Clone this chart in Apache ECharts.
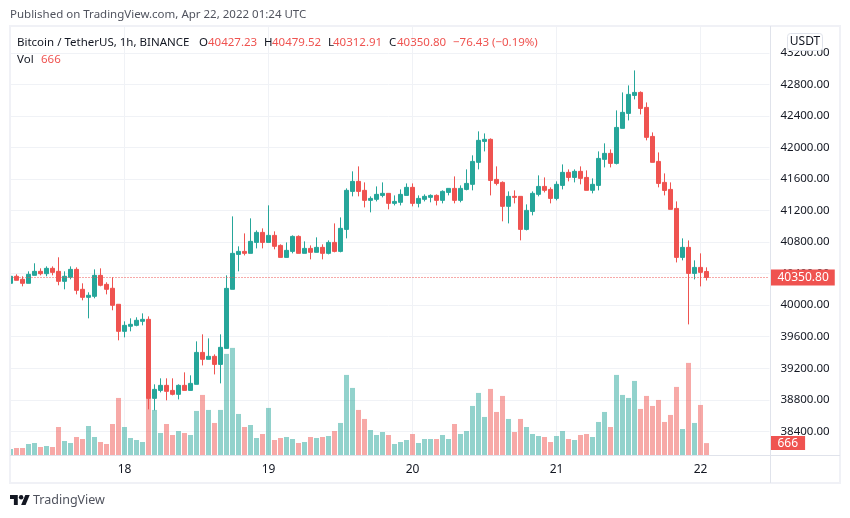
<!DOCTYPE html>
<html lang="en" style="height: 100%">
<head>
<meta charset="utf-8">
<title>Bitcoin / TetherUS</title>
<script src="https://cdn.jsdelivr.net/npm/echarts@6/dist/echarts.min.js"></script>
</head>
<body style="height: 100%; margin: 0; background: #fff">
<div id="container" style="width: 850px; height: 518px"></div>
<script>
var opens = [
  40277,40366,40328,40277,40378,40429,40399,40467,40429,40302,
  40353,40454,40201,40099,40112,40378,40264,40214,40011,39668,
  39732,39744,39795,39820,38818,38919,38983,38919,38869,38983,
  38919,38996,39401,39313,39351,39249,39452,40201,40644,40682,
  40657,40796,40923,40796,40885,40758,40606,40682,40872,40657,
  40720,40670,40733,40657,40796,40682,40961,41443,41570,41456,
  41329,41342,41392,41418,41291,41304,41392,41494,41291,41342,
  41367,41392,41329,41430,41481,41329,41468,41532,41811,42077,
  42103,41595,41557,41253,41380,41380,40961,41189,41405,41506,
  41468,41354,41519,41684,41620,41697,41620,41456,41519,41849,
  41925,41798,42242,42432,42660,42698,42508,42140,41823,41557,
  41468,41227,40606,40733,40403,40479,40427.23
];
var closes = [
  40366,40315,40277,40391,40429,40399,40467,40416,40302,40366,
  40454,40188,40099,40125,40378,40252,40201,39998,39668,39744,
  39757,39808,39820,38818,38932,38983,38907,38869,38983,38919,
  39008,39401,39313,39351,39249,39465,40213,40657,40682,40657,
  40809,40923,40796,40885,40746,40606,40695,40872,40657,40720,
  40670,40733,40657,40796,40682,40974,41456,41570,41443,41329,
  41354,41405,41418,41291,41316,41405,41494,41291,41354,41380,
  41392,41329,41443,41481,41329,41481,41544,41823,42090,42103,
  41582,41544,41253,41380,41367,40961,41202,41418,41506,41456,
  41354,41532,41684,41620,41697,41608,41456,41532,41861,41925,
  41798,42254,42445,42673,42698,42495,42128,41811,41544,41455,
  41215,40606,40733,40403,40479,40416,40350.80
];
var lows = [
  40264,40315,40239,40277,40378,40378,40366,40378,40252,40201,
  40328,40137,40061,39833,40087,40239,40137,39935,39554,39592,
  39668,39732,39744,38679,38666,38894,38793,38856,38805,38919,
  38919,38996,39236,39313,39122,39008,39452,40201,40429,40631,
  40657,40720,40720,40796,40708,40606,40606,40657,40657,40657,
  40581,40670,40581,40644,40670,40670,40847,41380,41380,41240,
  41177,41316,41367,41215,41265,41265,41392,41253,41240,41316,
  41304,41265,41291,41392,41291,41304,41456,41456,41722,41950,
  41392,41519,41063,41037,41291,40822,40948,41139,41380,41430,
  41291,41329,41468,41570,41557,41532,41456,41418,41456,41747,
  41747,41785,42242,42343,42609,42419,42090,41811,41494,41392,
  41215,40542,40568,39756,40327,40238,40312.91
];
var highs = [
  40442,40391,40366,40429,40531,40467,40492,40492,40607,40429,
  40492,40480,40277,40163,40454,40467,40290,40353,40011,39795,
  39833,39846,39896,39858,38996,39072,39072,39072,38996,39148,
  39110,39541,39630,39579,39376,39630,40378,41126,40746,40910,
  41101,40948,40974,41266,40936,40771,40796,40885,40885,40809,
  40758,40860,40771,40822,41037,41113,41481,41697,41760,41557,
  41380,41506,41557,41418,41392,41468,41544,41544,41392,41405,
  41405,41405,41456,41481,41633,41519,41722,41900,42204,42178,
  42115,41760,41570,41443,41456,41380,41278,41443,41646,41620,
  41494,41570,41785,41722,41722,41760,41709,41608,41950,42052,
  41975,42470,42698,42787,42977,42711,42571,42191,41937,41671,
  41557,41316,40847,40821,40568,40657,40479.52
];
var volumes = [
  336,392,392,616,672,448,504,448,1568,784,
  672,1008,896,1624,1008,728,616,1736,3192,1568,
  952,840,728,3360,2520,1232,1736,1120,1344,1232,
  1120,2464,3360,2520,1792,2520,5656,5992,2296,1568,
  1680,952,1176,2632,840,952,1008,896,672,728,
  1008,952,1008,1064,1344,1792,4480,3752,2520,2016,
  1400,1120,1288,1120,616,728,840,1176,672,896,
  896,896,1120,896,1736,1176,1344,2744,3472,2128,
  3696,2408,3304,2016,1288,2016,1568,1176,1064,1008,
  728,1064,1344,896,840,1120,1176,1008,1848,2408,
  1568,4480,3360,3192,4144,2576,3304,2744,3080,1848,
  2240,3808,1456,5152,1792,2800,666
];
// hour slots on the time axis, 10 empty ones after the last candle
var slotCount = 127;
var dayTicks = { 19: '18', 43: '19', 67: '20', 91: '21', 115: '22' };

var lastPrice = 40350.80;
var lastVolume = 666;
var priceMin = 38400;
var priceMax = 43200;
var priceStep = 400;
var volumeMax = 24000;

var publishedText = 'Published on TradingView.com, Apr 22, 2022 01:24 UTC';
var seriesName = 'Bitcoin / TetherUS, 1h, BINANCE';
var ohlcLabels = ['O', 'H', 'L', 'C'];
var ohlcValues = ['40427.23', '40479.52', '40312.91', '40350.80'];
var changeText = '\u221276.43 (\u22120.19%)';

var UP = '#26a69a';
var DOWN = '#ef5350';
var FONT = '"Noto Sans", sans-serif';

var slots = [];
for (var s = 0; s < slotCount; s++) slots.push(String(s));

var candles = opens.map(function (o, i) {
  return [o, closes[i], lows[i], highs[i]];
});

function isTick(index) {
  return dayTicks[index] !== undefined;
}

var titleText = '{name|' + seriesName + '}';
ohlcLabels.forEach(function (k, i) {
  titleText += '{key' + k + '|' + k + '}{val|' + ohlcValues[i] + '}';
});
titleText += '{chg|' + changeText + '}';

function legendStyle(color, width) {
  return { width: width, color: color, fontSize: 11.5, fontFamily: FONT };
}

var myChart = echarts.init(document.getElementById('container'), null, { renderer: 'canvas' });

var option = {
  animation: false,
  backgroundColor: '#fff',
  textStyle: { fontFamily: FONT },
  title: [
    { text: publishedText, left: 10, top: 9, padding: 0, textStyle: { fontSize: 11.5, fontWeight: 'normal', color: '#50535e', fontFamily: FONT } },
    {
      text: titleText, left: 17, top: 37, padding: 0,
      textStyle: {
        fontSize: 11.5, fontWeight: 'normal', fontFamily: FONT,
        rich: {
          name: legendStyle('#131722', 182),
          keyO: legendStyle('#131722', 9),
          keyH: legendStyle('#131722', 8),
          keyL: legendStyle('#131722', 5),
          keyC: legendStyle('#131722', 8),
          val: legendStyle(DOWN, 56),
          chg: { color: DOWN, fontSize: 11.5, fontFamily: FONT }
        }
      }
    },
    {
      text: '{key|Vol}{val|' + lastVolume + '}', left: 17, top: 54, padding: 0,
      textStyle: {
        fontSize: 11.5, fontWeight: 'normal', fontFamily: FONT,
        rich: {
          key: legendStyle('#131722', 24),
          val: { color: DOWN, fontSize: 11.5, fontFamily: FONT }
        }
      }
    }
  ],
  grid: [
    { left: 7.5, top: 52.83, width: 762, height: 378.5 },
    { left: 7.5, top: 26, width: 762, height: 429 }
  ],
  xAxis: [
    { type: 'category', gridIndex: 0, data: slots, show: false },
    {
      type: 'category', gridIndex: 1, data: slots,
      axisLine: { show: false },
      axisTick: { show: false },
      axisLabel: {
        interval: function (index) { return isTick(index); },
        formatter: function (v, index) { return dayTicks[index] || ''; },
        color: '#131722', fontSize: 12, margin: 9, fontFamily: FONT
      },
      splitLine: {
        show: true,
        alignWithLabel: true,
        interval: function (index) { return isTick(index); },
        lineStyle: { color: '#f0f2f6', width: 1 }
      }
    }
  ],
  yAxis: [
    {
      type: 'value', gridIndex: 0, position: 'right',
      min: priceMin, max: priceMax, interval: priceStep,
      axisLine: { show: false },
      axisTick: { show: false },
      axisLabel: {
        formatter: function (v) { return v.toFixed(2); },
        color: '#131722', fontSize: 11.5, margin: 11, fontFamily: FONT,
        padding: [2, 0, 0, 0]
      },
      splitLine: { lineStyle: { color: '#f0f2f6', width: 1 } }
    },
    { type: 'value', gridIndex: 1, min: 0, max: volumeMax, show: false }
  ],
  series: [
    {
      type: 'bar', name: 'Vol', xAxisIndex: 1, yAxisIndex: 1,
      data: volumes.map(function (v, i) {
        return {
          value: v,
          itemStyle: { color: closes[i] < opens[i] ? 'rgba(239,83,80,0.5)' : 'rgba(38,166,154,0.5)' }
        };
      }),
      barWidth: 5,
      z: 2,
      markLine: {
        silent: true, symbol: 'none', z: 6,
        lineStyle: { color: 'rgba(0,0,0,0)', width: 1 },
        label: {
          show: true, position: 'end', distance: 1,
          formatter: String(lastVolume),
          color: '#fff', backgroundColor: DOWN, fontSize: 12, fontFamily: FONT,
          padding: [1, 7, 1, 7], align: 'left'
        },
        data: [{ yAxis: lastVolume }]
      }
    },
    {
      type: 'candlestick', name: 'BTCUSDT', xAxisIndex: 0, yAxisIndex: 0,
      data: candles,
      barWidth: 5,
      z: 3,
      itemStyle: { color: UP, color0: DOWN, borderColor: UP, borderColor0: DOWN, borderWidth: 1 },
      markLine: {
        silent: true, symbol: 'none', z: 6,
        lineStyle: { color: DOWN, width: 1, type: [1, 2] },
        label: {
          show: true, position: 'end', distance: 1,
          formatter: lastPrice.toFixed(2),
          color: '#fff', backgroundColor: DOWN, fontSize: 12, fontFamily: FONT,
          padding: [2, 6, 2, 7], align: 'left'
        },
        data: [{ yAxis: lastPrice }]
      }
    }
  ],
  graphic: [
    // trims the first candle and bar at the pane edge
    { type: 'rect', z: 50, silent: true, shape: { x: 6, y: 26, width: 4, height: 429 }, style: { fill: '#fff' } },
    { type: 'rect', z: 51, silent: true, shape: { x: 10, y: 26, width: 830, height: 457 }, style: { fill: 'none', stroke: '#f0f1f6', lineWidth: 2 } },
    { type: 'line', z: 51, silent: true, shape: { x1: 770.5, y1: 26, x2: 770.5, y2: 483 }, style: { stroke: '#e0e3eb', lineWidth: 1 } },
    { type: 'line', z: 51, silent: true, shape: { x1: 10, y1: 455.5, x2: 840, y2: 455.5 }, style: { stroke: '#e0e3eb', lineWidth: 1 } },
    { type: 'rect', z: 52, silent: true, shape: { x: 787.5, y: 33.5, width: 35, height: 17, r: 3 }, style: { fill: '#fff', stroke: '#e0e3eb', lineWidth: 1 } },
    { type: 'text', z: 53, silent: true, style: { x: 805, y: 42, text: 'USDT', align: 'center', verticalAlign: 'middle', fill: '#131722', font: '12px ' + FONT } },
    // TradingView mark
    {
      type: 'group', z: 53, silent: true, x: 10, y: 492.8, scaleX: 0.556, scaleY: 0.556,
      children: [
        { type: 'polygon', z: 53, shape: { points: [[0, 4], [14, 4], [14, 22], [7, 22], [7, 11], [0, 11]] }, style: { fill: '#131722' } },
        { type: 'polygon', z: 53, shape: { points: [[20, 22], [27.5, 4], [35.5, 4], [28, 22]] }, style: { fill: '#131722' } },
        { type: 'circle', z: 53, shape: { cx: 20, cy: 8, r: 4 }, style: { fill: '#131722' } }
      ]
    },
    { type: 'text', z: 53, silent: true, style: { x: 33, y: 500, text: 'TradingView', verticalAlign: 'middle', fill: '#50535e', font: '12.5px ' + FONT } }
  ]
};
myChart.setOption(option);
window.addEventListener('resize', myChart.resize);
</script>
</body>
</html>
